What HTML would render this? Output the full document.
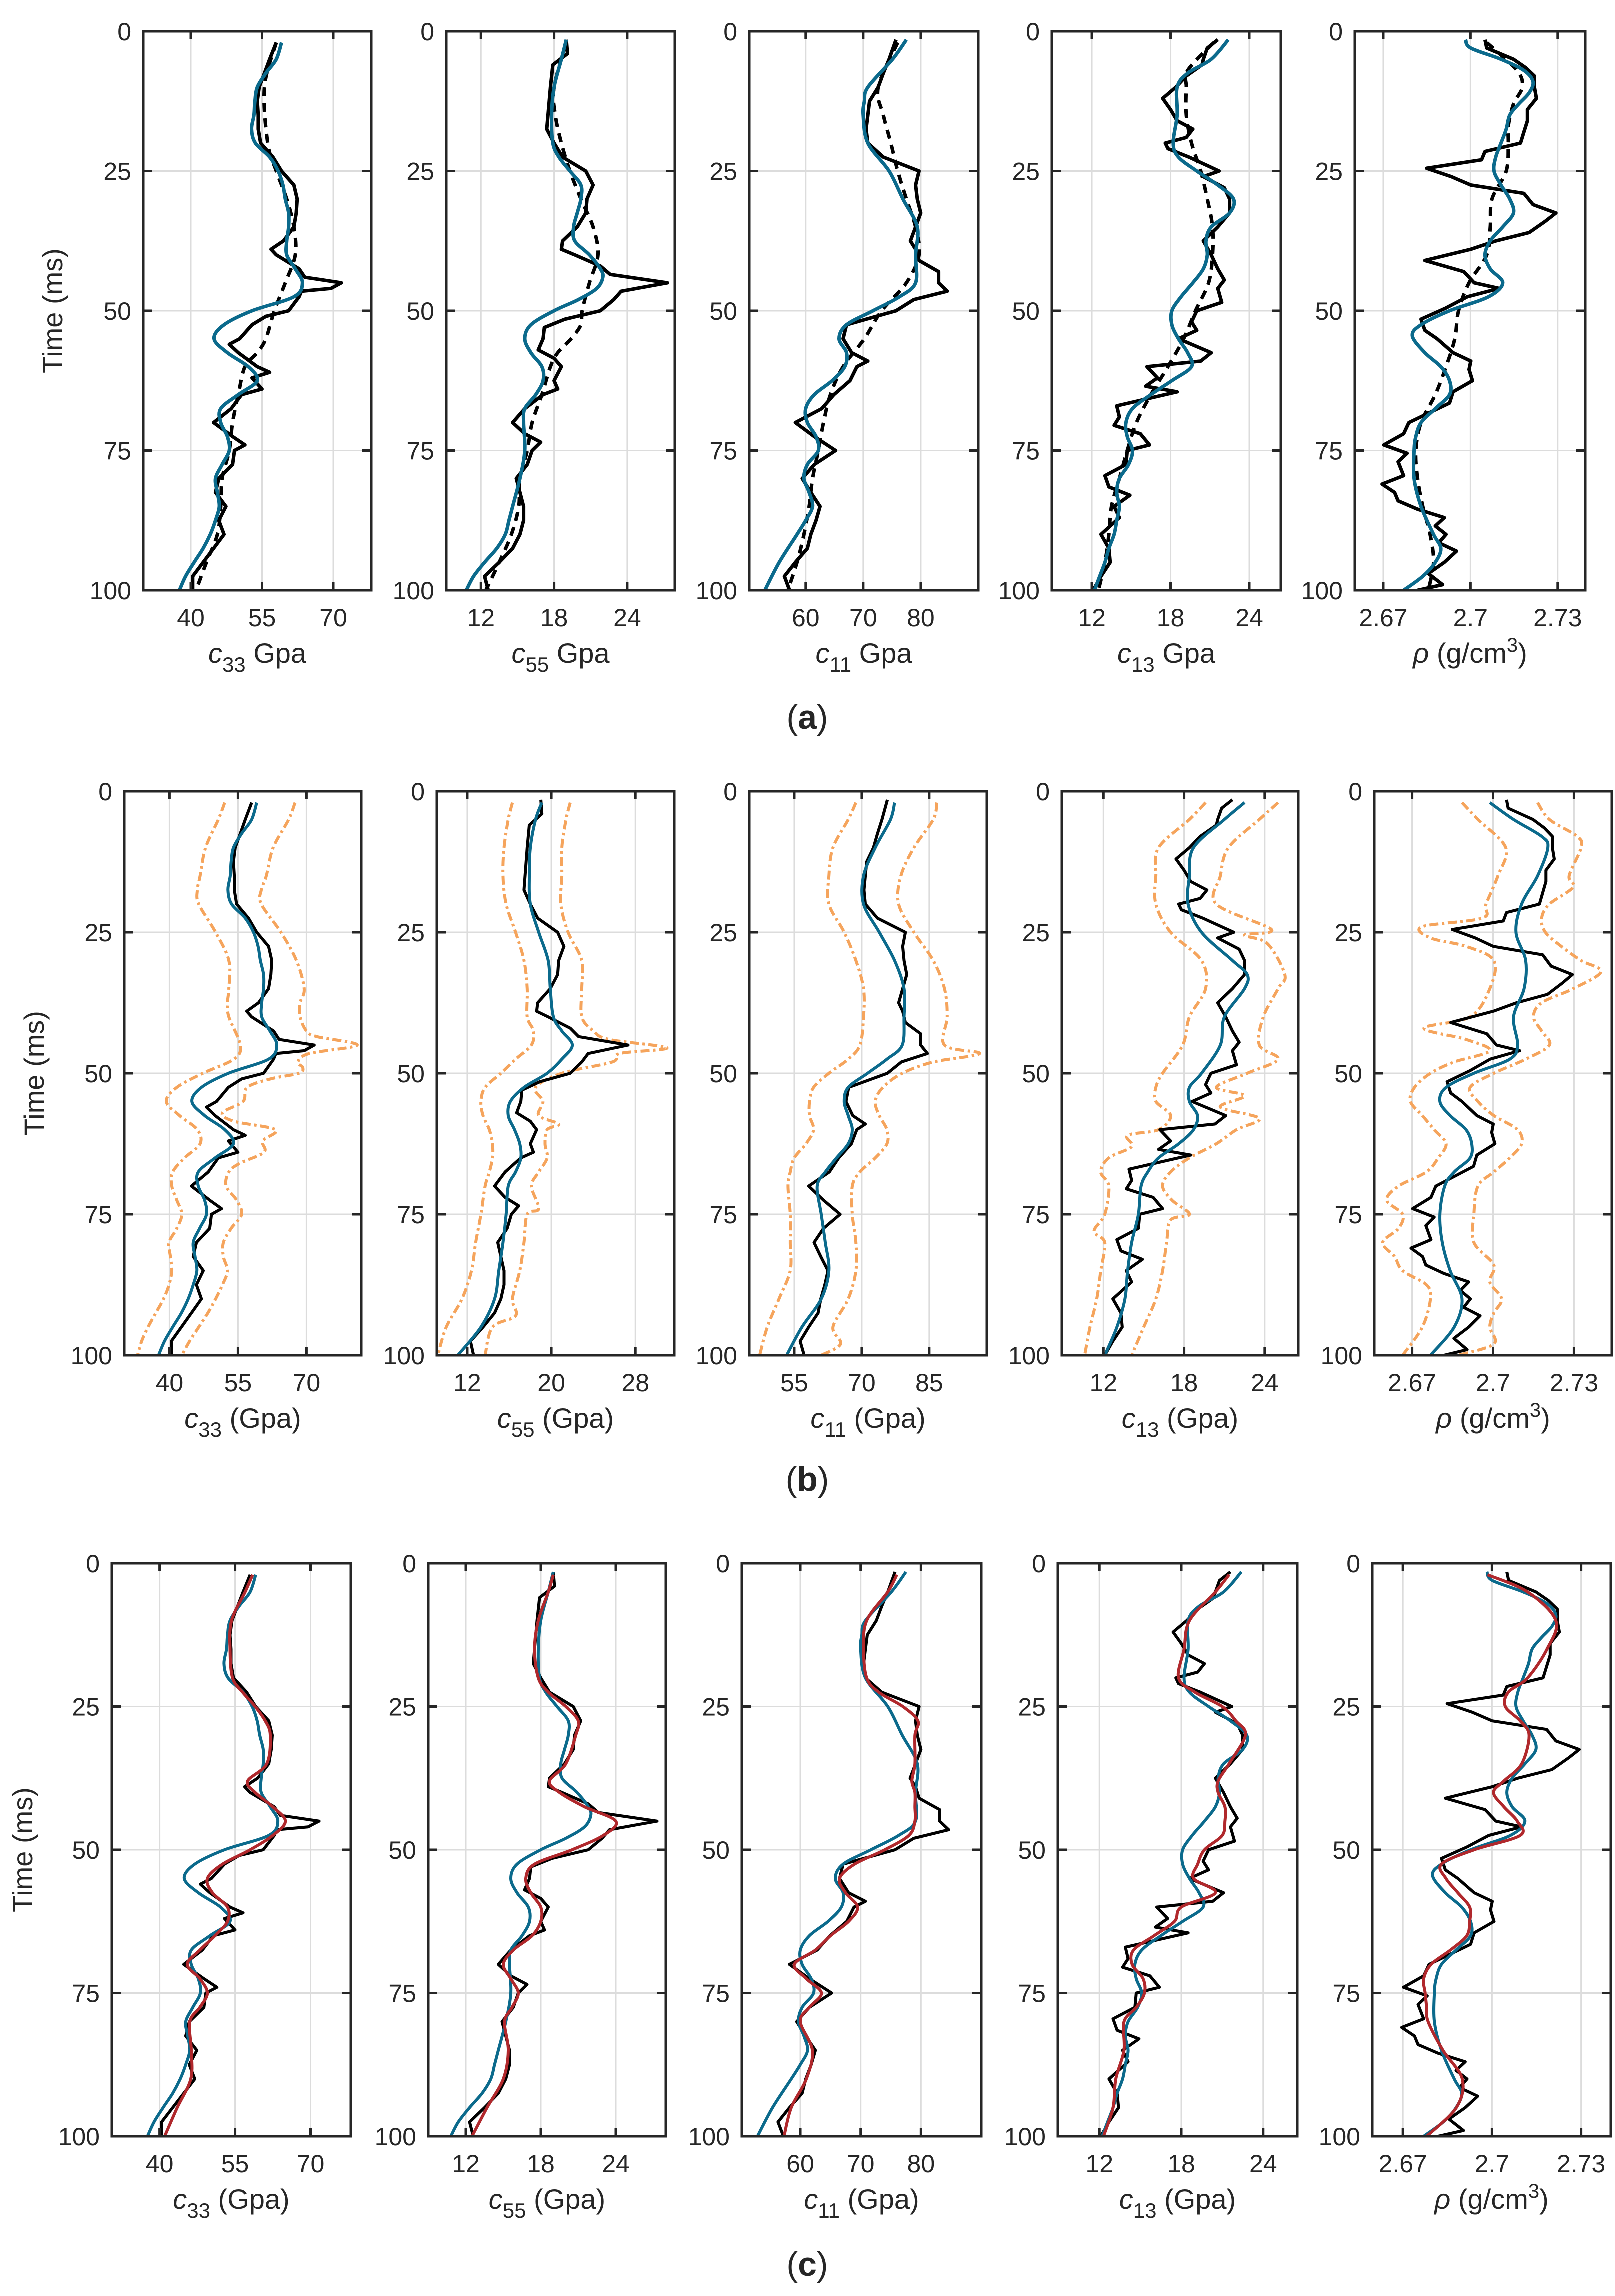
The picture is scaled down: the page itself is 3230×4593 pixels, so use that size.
<!DOCTYPE html>
<html><head><meta charset="utf-8">
<style>
html,body{margin:0;padding:0;background:#fff;}
svg{display:block;}
text{font-family:"Liberation Sans",Arial,sans-serif;fill:#262626;}
</style></head>
<body>
<svg id="fig" width="3230" height="4593" viewBox="0 0 3230 4593" xmlns="http://www.w3.org/2000/svg"></svg>
<script>
// ---------- DATA (time ms, value) ----------
const c33True=[[2,58],[5,56.6],[7.5,55.5],[10,54.4],[12.5,54],[15,54.2],[17.5,54.2],[20,54.7],[22.5,57.3],[25,59.1],[27.5,61.7],[30,62.4],[32.5,62.2],[35,61.7],[37.5,59.5],[39,56.9],[40,58],[42.5,62.8],[44,64],[45,71.7],[46,69.5],[46.5,63.3],[47.5,62.8],[50,60.6],[51,55.8],[52.5,52.9],[55,50.3],[56,48.1],[57.5,50],[60,54],[61,56.6],[62,52.9],[64,55],[65,50.7],[67.5,48.5],[70,44.8],[72.5,48.8],[74,51.4],[75,49.2],[77.5,48.8],[80,45.9],[82.5,45.2],[85,47.4],[87.5,45.9],[90,47],[92.5,44.8],[95,42.6],[97.5,40.4],[100,40.4]];
const c33Blue=[[2,59.1],[5,58],[7.5,55.8],[10,54],[12.5,53.5],[15,53.3],[17.5,52.8],[20,53.6],[22.5,56.6],[25,58.4],[27.5,59.4],[30,59.9],[32.5,60.6],[35,60.6],[37.5,60.2],[40,60.2],[42.5,62],[45,63.5],[47.5,61.7],[50,52.9],[52.5,47],[55,44.9],[57.5,47.7],[60,52.1],[62.5,54],[65,50],[67.5,46.3],[70,46.3],[72.5,47.7],[75,48.1],[77.5,46.6],[80,45.2],[82.5,45.6],[85,46],[87.5,45.2],[90,44.1],[92.5,42.6],[95,40.7],[97.5,38.9],[100,37.6]];
const c33Init=[[2,58],[10,55.5],[20,56.2],[25,58],[30,60.2],[35,61.7],[40,62],[45,59.9],[50,57.6],[55,55.8],[57.5,54],[60,51.4],[65,50],[70,48.8],[75,48.1],[80,46.6],[85,46.3],[90,45.6],[95,43.3],[100,41.1]];
const c55True=[[1.5,19],[4,19.1],[6,17.9],[10,17.7],[15,17.5],[17.5,17.4],[20,18],[22.5,18.7],[25,20.6],[27.5,21.2],[30,20.7],[32.5,20.6],[35,19.9],[37.5,18.7],[39,18.6],[40,19.7],[42,21.8],[43.5,22.6],[45,27.3],[46.5,23.5],[48,22.9],[50,21.8],[51.5,18.9],[53,17.2],[55,17.1],[57,16.7],[58.5,18],[60,18.6],[62.5,18],[64,18.3],[65,17.1],[67.5,15.6],[70,14.6],[72,15.6],[73.5,16.9],[75,16.2],[77.5,15.8],[80,14.9],[82.5,15.2],[85,15.5],[87.5,15.5],[90,15.2],[92.5,14.6],[95,13.5],[97.5,12.3],[100,12.6]];
const c55Blue=[[1.5,19],[5,18.6],[10,18],[15,17.8],[20,17.9],[22.5,18.4],[25,19.3],[27.5,20.2],[30,20.2],[32.5,19.9],[35,19.6],[37.5,19.7],[40,20.9],[42.5,21.8],[44,22],[46,21.5],[48,20],[50,18],[52.5,16.1],[55,15.6],[57.5,16.1],[60,17],[62.5,17.1],[65,16.5],[67.5,15.6],[70,15.5],[75,15.6],[80,15.2],[85,14.6],[87.5,14.3],[90,14],[92.5,13.3],[95,12.3],[97.5,11.4],[100,10.8]];
const c55Init=[[2,19],[10,18],[15,18.1],[20,18.6],[25,19.3],[30,20.2],[35,21.2],[40,21.6],[45,20.9],[50,20.3],[52.5,20.2],[55,19.4],[57.5,18.3],[60,17.7],[65,17],[70,16.2],[75,15.8],[80,15.2],[85,15.1],[90,14.5],[95,13.5],[100,12.4]];
const c11True=[[1.5,75.7],[5,74.5],[7.5,73.5],[10,72.6],[12.5,71.1],[15,70.8],[17.5,70.5],[20,70.8],[22.5,73.5],[25,79.7],[27.5,79.1],[30,79.4],[32.5,80],[35,79.1],[37.5,78.2],[39,79.1],[41,79.7],[43,83.1],[45,83.1],[46.5,84.6],[48,78.8],[50,75.7],[52.5,67.1],[55,66.5],[57.5,68],[59,70.8],[60,68.9],[62.5,67.7],[65,64.9],[67.5,62.8],[70,58.2],[72.5,61.5],[75,65.2],[77.5,61.5],[80,59.4],[82.5,60.9],[85,62.5],[87.5,61.8],[90,60.9],[92.5,60.3],[95,58.2],[97.5,56.3],[100,57.2]];
const c11Blue=[[1.5,77.5],[5,75.1],[10,70.8],[12.5,70.2],[15,70],[20,70.8],[25,74.5],[30,76.9],[35,79.4],[40,79.1],[45,79.1],[47.5,76.3],[50,71.7],[52.5,67.1],[55,65.8],[57.5,67.1],[60,66.8],[62.5,64.6],[65,61.5],[67.5,60],[70,60.3],[72.5,61.8],[75,62.2],[77.5,60.3],[80,59.7],[82.5,60.6],[85,61.2],[87.5,60],[90,58.5],[95,55.4],[100,52.9]];
const c11Init=[[2,76],[10,72.6],[15,73.5],[20,74.8],[25,76],[30,77.5],[35,79.1],[40,79.7],[45,77.5],[50,73.2],[55,70.2],[60,66.5],[65,64.3],[70,63.1],[75,62.2],[80,61.2],[85,60.6],[90,59.7],[95,58.5],[100,56.9]];
const c13True=[[1.5,21.6],[3,20.8],[5,20.5],[6,20.4],[8,19.2],[10,18.4],[12,17.4],[14,18],[16,18.5],[17.5,19.7],[19,19.2],[20,17.6],[21,17.8],[22.5,19.4],[25,21.7],[26,20.5],[28,22.1],[30,22.5],[32.5,22.5],[35,21.6],[37.5,20.5],[40,21.1],[42.5,21.6],[44.5,22.1],[46,21.6],[48.5,21.9],[50,20],[52,19.6],[53.5,20],[55,18.6],[57.5,21.1],[59,20.3],[60,16.2],[62,17],[63.5,16.1],[64.5,18.5],[67,13.9],[69,14.1],[70.5,13.7],[72,15.7],[74,16.4],[75,14.7],[77.5,14.6],[79.5,13],[81.5,13.3],[83,14.9],[85,13.7],[87,14.1],[90,12.7],[92.5,13.3],[95,13.4],[97.5,12.7],[100,12.1]];
const c13Blue=[[1.5,22.4],[5,21.1],[7.5,19.3],[10,18.5],[15,18.5],[20,18.2],[22.5,18.6],[25,20],[27.5,21.6],[30,22.8],[32.5,22.5],[35,21.1],[37.5,20.7],[40,20.8],[42.5,20.5],[45,19.7],[47.5,18.8],[50,18.1],[52.5,18.1],[55,18.6],[57.5,19.3],[60,19.6],[62.5,18.1],[65,16.5],[67.5,15.1],[70,14.6],[72.5,14.7],[75,15.1],[77.5,14.8],[80,14.1],[82.5,13.9],[85,14.1],[87.5,13.9],[90,13.7],[92.5,13.3],[95,13],[97.5,12.6],[100,12.2]];
const c13Init=[[2,21.3],[7,19.3],[10,19.2],[15,19.2],[20,19.6],[25,20.3],[30,20.8],[35,21.2],[40,21.2],[45,20.9],[50,19.9],[55,19],[60,17.8],[65,16.5],[70,15.4],[75,14.7],[80,14.1],[85,13.5],[90,13.3],[95,13],[100,12.5]];
const rhoTrue=[[1.5,2.705],[3,2.7056],[5,2.7148],[6.5,2.719],[8,2.722],[10,2.722],[12,2.7227],[14,2.7196],[16,2.7196],[18,2.7184],[20,2.7172],[21.5,2.705],[23,2.7038],[24.5,2.6849],[26,2.6934],[27.5,2.7001],[29,2.7184],[31,2.7215],[32.5,2.7294],[34,2.7257],[36,2.7202],[37.5,2.7087],[39,2.7001],[41,2.6843],[43,2.6977],[45,2.7013],[46,2.7099],[47.5,2.6989],[49.5,2.6916],[51.5,2.683],[53.5,2.6843],[55,2.6885],[57.5,2.694],[59,2.7001],[60.5,2.6995],[62.5,2.7007],[64.5,2.694],[66.5,2.6928],[70,2.6788],[72,2.677],[74,2.6702],[75.5,2.6782],[77,2.6751],[79.5,2.677],[81,2.6696],[82.5,2.6739],[84,2.6751],[85.5,2.6818],[87,2.691],[88.5,2.6879],[90,2.6916],[91.5,2.6891],[93,2.6952],[95,2.691],[97,2.6855],[99,2.6904],[100,2.6818]];
const rhoBlue=[[1.5,2.6983],[3,2.7001],[5,2.7105],[7,2.7184],[9,2.7215],[11,2.7202],[13,2.7166],[15,2.7135],[17.5,2.7123],[20,2.7105],[22.5,2.7087],[25,2.7081],[27.5,2.7105],[30,2.7135],[32.5,2.7148],[35,2.7111],[37.5,2.7068],[40,2.705],[42.5,2.7068],[45,2.7111],[47.5,2.7062],[50,2.6928],[52.5,2.683],[54.5,2.68],[57.5,2.6843],[60,2.6898],[62.5,2.6928],[65,2.6928],[67.5,2.6879],[70,2.683],[72.5,2.6812],[75,2.6806],[80,2.6806],[85,2.683],[90,2.6873],[92.5,2.6898],[95,2.6879],[97.5,2.6836],[100,2.677]];
const rhoInit=[[2,2.7056],[7,2.716],[10,2.7178],[13,2.7148],[17,2.713],[20,2.713],[25,2.7123],[30,2.7074],[35,2.7068],[40,2.7056],[45,2.6995],[50,2.6959],[55,2.6946],[60,2.6916],[65,2.6879],[70,2.683],[75,2.6812],[80,2.6818],[85,2.6836],[90,2.6861],[95,2.6873],[100,2.6855]];

// Row (b): posterior mean and bounds
const c33Lo=[[2,52.1],[5,50.7],[10,47.9],[15,46.7],[17.5,46.1],[20,46.4],[25,50.1],[30,53],[35,53],[37.5,52.7],[40,53],[45,55.5],[47.5,54.1],[50,47.3],[52.5,41.6],[55,39.3],[57.5,42.2],[60,46.1],[62.5,46.7],[65,43.3],[67.5,40.7],[70,40.5],[72.5,41.6],[75,42.7],[77.5,41.6],[80,39.9],[82.5,40.2],[85,40.5],[87.5,39.9],[90,38.7],[92.5,37],[95,35.3],[97.5,33.9],[100,33]];
const c33Hi=[[2,67.5],[5,66.1],[10,62.7],[15,61.2],[17.5,60.1],[20,60.1],[25,64.4],[30,67.8],[35,69.5],[37.5,68.6],[40,68.6],[42.5,70],[43.5,72.3],[45,81.1],[46.5,70.6],[48,68.1],[49,69.2],[50,68.3],[51,62.1],[52.5,57],[55,56.1],[57,51.6],[58.5,54.1],[60,63.2],[62,60.4],[64,60.7],[66,55.3],[67.5,53],[70,52.4],[72.5,54.7],[75,55.8],[77.5,53.5],[80,51.8],[82.5,51.8],[85,52.7],[87.5,51.6],[90,50.1],[92.5,48.4],[95,46.4],[97.5,44.4],[100,42.7]];
const c55Mean=[[2,19.1],[5,18.5],[10,18],[15,17.9],[20,18],[25,18.8],[30,19.7],[35,19.9],[40,20.2],[42.5,21],[45,22],[47.5,21],[50,19.6],[52.5,17.4],[55,16.1],[57.5,15.9],[60,16.5],[62.5,17],[65,17.1],[67.5,16.6],[70,15.9],[75,15.7],[80,15.4],[85,15],[90,14.6],[95,13.3],[100,11.1]];
const c55Lo=[[2,16.3],[5,15.9],[10,15.5],[15,15.4],[20,15.7],[25,16.6],[30,17.4],[35,17.7],[40,17.7],[42.5,18.3],[45,18.1],[47.5,16.6],[50,15.2],[52.5,13.7],[55,13.3],[57.5,13.5],[60,14.1],[62.5,14.4],[65,14.4],[67.5,14.1],[70,13.7],[75,13.3],[80,12.8],[85,12.4],[90,11.5],[95,10],[100,9.2]];
const c55Hi=[[2,21.8],[5,21.4],[10,21],[15,21],[20,20.9],[25,21.6],[30,22.9],[35,22.9],[40,22.9],[42.5,24],[44,25.5],[45.5,31],[46.5,26.5],[48,25.8],[50,21],[52.5,18.5],[55,19.2],[57.5,18.8],[59,20.7],[60,19.6],[62.5,19.4],[65,19.6],[67.5,18.8],[70,18.1],[74,18.8],[75,17.7],[80,17.4],[85,17],[90,16.3],[93,16.6],[95,14.4],[100,13.7]];
const c11Mean=[[2,77.3],[5,76.4],[10,73],[15,70.4],[20,70.4],[25,73.9],[30,77.3],[35,79.4],[40,79.4],[45,79],[47.5,75.6],[50,71.3],[52.5,67],[55,66.1],[57.5,67],[60,67.9],[62.5,67],[65,64.4],[67.5,61.9],[70,60.1],[75,61],[80,61.9],[85,62.7],[90,61],[95,56.7],[100,53.3]];
const c11Lo=[[2,68.7],[5,67],[10,63.6],[15,62.7],[20,62.7],[25,66.1],[30,68.7],[35,70.4],[40,70.4],[45,69.6],[47.5,67],[50,62.7],[52.5,59.3],[55,58.4],[57.5,58.4],[60,59.3],[62.5,57.6],[65,55],[67.5,54.1],[70,53.6],[75,54.1],[80,54.1],[85,54.1],[90,51.6],[95,49],[100,47.3]];
const c11Hi=[[2,86.7],[5,85.9],[10,81.6],[15,78.7],[20,78.2],[25,81.6],[30,85.9],[35,88.4],[40,89],[45,88.4],[46.5,96.2],[48,85.9],[50,79],[52.5,74.7],[55,73],[57.5,73.9],[60,75.6],[62.5,75.6],[65,73],[67.5,69.6],[70,67.9],[75,67.9],[80,68.7],[85,68.7],[90,67],[95,63.6],[98,65.3],[100,61]];
const c13Mean=[[2,22.5],[5,21],[10,18.7],[15,18.4],[20,18.3],[25,19.3],[30,21.6],[32.5,22.7],[35,22.5],[40,21],[45,20.7],[50,19.3],[52.5,18.4],[55,18.4],[57.5,19],[60,18.7],[62.5,17.6],[65,16.1],[67.5,15.3],[70,14.8],[75,14.6],[80,14.1],[85,13.8],[90,13.6],[95,13],[100,12.1]];
const c13Lo=[[2,19.6],[5,18.4],[10,16.1],[15,15.9],[20,15.9],[25,17],[30,19.3],[35,19.6],[40,18.4],[45,17.9],[50,16.4],[52.5,15.9],[55,15.9],[57.5,17],[60,16.1],[61,13.8],[63,14.1],[65,12.4],[67.5,11.8],[70,12.4],[75,12.1],[78,11.3],[80,12.1],[85,11.8],[90,11.5],[95,11],[100,10.6]];
const c13Hi=[[2,25],[5,23.6],[10,21.3],[15,20.7],[20,20.4],[24.5,24.5],[25.5,22.5],[27,24.2],[32.5,25.5],[35,25],[40,23.9],[45,23.6],[47.5,25],[50,22.7],[52.5,20.4],[54,22.5],[56,20.7],[58,23.6],[60,21.9],[62.5,20.4],[65,18.4],[67.5,17],[70,16.4],[72.5,17.1],[75,18.4],[76,17],[80,16.7],[85,16.4],[90,15.9],[95,15],[100,14.1]];
const rhoMean=[[2,2.6988],[5,2.7076],[8,2.718],[10,2.7203],[15,2.7165],[20,2.7106],[25,2.7085],[30,2.7121],[35,2.7115],[40,2.7076],[45,2.7091],[47.5,2.7062],[50,2.6929],[52.5,2.6826],[55,2.6803],[57.5,2.6841],[60,2.69],[62.5,2.6921],[65,2.6915],[67.5,2.6856],[70,2.6821],[75,2.6803],[80,2.6812],[85,2.6841],[90,2.6885],[95,2.6856],[100,2.6768]];
const rhoLo=[[2,2.6885],[5,2.6944],[10,2.7047],[15,2.7018],[20,2.6974],[22.5,2.6959],[24,2.6738],[26,2.6768],[27.5,2.69],[30,2.7003],[35,2.6988],[40,2.6915],[42,2.6744],[44,2.69],[46,2.6988],[48,2.6856],[50,2.6768],[52.5,2.6709],[55,2.6694],[57.5,2.6738],[60,2.6782],[62.5,2.6826],[65,2.6797],[67.5,2.6753],[70,2.665],[72.5,2.6606],[75,2.6665],[77.5,2.665],[80,2.6591],[82.5,2.6635],[85,2.6665],[87.5,2.6753],[90,2.6768],[95,2.6738],[100,2.6665]];
const rhoHi=[[2,2.7165],[5,2.7209],[8,2.7312],[10,2.7326],[15,2.7282],[17,2.7297],[20,2.7209],[22.5,2.718],[25,2.7194],[27.5,2.7253],[30,2.7326],[32,2.74],[35,2.7297],[37.5,2.718],[40,2.715],[42.5,2.718],[45,2.7209],[47.5,2.7121],[50,2.7003],[52.5,2.6915],[55,2.6944],[57.5,2.7003],[60,2.7091],[62.5,2.7106],[65,2.7062],[67.5,2.7003],[70,2.6944],[75,2.6929],[80,2.6929],[84,2.7003],[87,2.6988],[90,2.7032],[92.5,2.7003],[95,2.6988],[98,2.7003],[100,2.6871]];

// Row (c): second inversion (red)
const tRed=[2,5,10,15,20,22.5,25,27.5,30,35,38,40,42.5,45,47.5,50,52.5,55,57.5,60,62.5,65,67.5,70,72.5,75,77.5,80,85,90,95,100];
const c33Red=[58.5,57,54.3,54,54.5,56.5,59,61,62,61.3,57.5,59,62.5,65,62.5,58,52.5,49.5,50.5,53.5,53.5,51,48,45.5,48,49.5,48,46,46.3,46.2,43.5,41];
const c55Red=[19,18.6,17.8,17.5,17.8,18.6,20,21,20.8,20,18.7,19.5,21.5,24,23,20.5,17.5,16.8,17.2,18,18,17.3,15.8,15,15.6,16.2,15.7,15.1,15.4,15,13.7,12.5];
const c11Red=[76,74.5,71,70.5,71,73,77,79.5,79,79,78.5,79,79,79,78,74,69,66.5,67.5,69.5,68,65,62.5,59,61,63.5,61.5,60,62,61,58.5,57.3];
const c13Red=[21.5,20.5,18.6,18.2,17.8,19,21,22,22.7,21.5,20.7,20.7,21.2,21.2,21,19.7,19.2,18.9,20.5,18,17.5,16,14.5,14.4,15.2,15.3,14.7,13.8,13.8,13.2,13,12.3];
const rhoRed=[2.6985,2.712,2.7215,2.7185,2.712,2.7055,2.7045,2.7095,2.7125,2.71,2.704,2.7005,2.704,2.7085,2.7095,2.694,2.683,2.6845,2.6885,2.6925,2.6925,2.6915,2.686,2.6795,2.677,2.6775,2.678,2.6785,2.6835,2.69,2.688,2.678];

const yTicks=[0,25,50,75,100];
const ticksA=[[40,55,70],[12,18,24],[60,70,80],[12,18,24],[2.67,2.7,2.73]];
const ticksB=[[40,55,70],[12,20,28],[55,70,85],[12,18,24],[2.67,2.7,2.73]];
const ticksC=ticksA;
const tickLabelsA=[["40","55","70"],["12","18","24"],["60","70","80"],["12","18","24"],["2.67","2.7","2.73"]];
const tickLabelsB=[["40","55","70"],["12","20","28"],["55","70","85"],["12","18","24"],["2.67","2.7","2.73"]];
const rangesA=[[30,78],[9.16,27.9],[50.2,90],[8.95,26.4],[2.6602,2.7395]];
const rangesB=[[30.1,82],[9.1,31.7],[45,97.8],[8.9,26.5],[2.656,2.744]];
const rangesC=[[30.5,78],[9,28],[50.3,90],[8.95,26.5],[2.6597,2.74]];

// ---------- LAYOUT ----------
const NS="http://www.w3.org/2000/svg";
const svg=document.getElementById('fig');
function el(tag,attrs,parent){const e=document.createElementNS(NS,tag);for(const k in attrs)e.setAttribute(k,attrs[k]);(parent||svg).appendChild(e);return e;}
const names=['c33','c55','c11','c13','rho'];
const subs=['33','55','11','13'];
let clipId=0;

function pathD(P,smooth){
  if(!smooth) return P.map((p,k)=>(k?'L':'M')+p[0].toFixed(1)+','+p[1].toFixed(1)).join('');
  let d='M'+P[0][0].toFixed(1)+','+P[0][1].toFixed(1);
  for(let k=0;k<P.length-1;k++){
    const p0=P[Math.max(k-1,0)],p1=P[k],p2=P[k+1],p3=P[Math.min(k+2,P.length-1)];
    const c1=[p1[0]+(p2[0]-p0[0])/6,p1[1]+(p2[1]-p0[1])/6];
    const c2=[p2[0]-(p3[0]-p1[0])/6,p2[1]-(p3[1]-p1[1])/6];
    d+='C'+c1[0].toFixed(1)+','+c1[1].toFixed(1)+' '+c2[0].toFixed(1)+','+c2[1].toFixed(1)+' '+p2[0].toFixed(1)+','+p2[1].toFixed(1);
  }
  return d;
}

function drawPanel(row,i,box,top,bot,range,ticks,tlabels,series,unitParen){
  const g=el('g',{});
  
  
  const x=v=>box[0]+(v-range[0])/(range[1]-range[0])*(box[1]-box[0]);
  const y=t=>top+t/100*(bot-top);
  ticks.forEach(v=>{const l=el('line',{x1:x(v),x2:x(v),y1:top,y2:bot,stroke:'#dcdcdc','stroke-width':3},g);
    });
  yTicks.slice(1,4).forEach(t=>{const l=el('line',{x1:box[0],x2:box[1],y1:y(t),y2:y(t),stroke:'#dcdcdc','stroke-width':3},g);
    });
  const cid='clip'+(clipId++);
  const cp=el('clipPath',{id:cid},g);el('rect',{x:box[0],y:top,width:box[1]-box[0],height:bot-top},cp);
  const sg=el('g',{'clip-path':'url(#'+cid+')'},g);
  series.forEach(s=>{
    const P=s.pts.map(p=>[x(p[1]),y(p[0])]);
    const a={d:pathD(P,s.smooth),fill:'none',stroke:s.color,'stroke-width':s.w,'stroke-linejoin':'round','stroke-linecap':'butt'};
    if(s.dash)a['stroke-dasharray']=s.dash;
    const p=el('path',a,sg);
    
    
  });
  const fr=el('rect',{x:box[0],y:top,width:box[1]-box[0],height:bot-top,fill:'none',stroke:'#262626','stroke-width':5},g);
  
  ticks.forEach(v=>{el('line',{x1:x(v),x2:x(v),y1:bot,y2:bot-16,stroke:'#262626','stroke-width':5},g);
    el('line',{x1:x(v),x2:x(v),y1:top,y2:top+16,stroke:'#262626','stroke-width':5},g);});
  yTicks.forEach(t=>{el('line',{x1:box[0],x2:box[0]+18,y1:y(t),y2:y(t),stroke:'#262626','stroke-width':5},g);
    el('line',{x1:box[1],x2:box[1]-18,y1:y(t),y2:y(t),stroke:'#262626','stroke-width':5},g);});
  ticks.forEach((v,k)=>{const t=el('text',{x:x(v),y:bot+72,'font-size':50,'text-anchor':'middle'},g);t.textContent=tlabels[k];
    });
  yTicks.forEach(tv=>{const t=el('text',{x:box[0]-24,y:y(tv)+18,'font-size':50,'text-anchor':'end'},g);t.textContent=String(tv);
    });
  const cx=(box[0]+box[1])/2;
  const tt=el('text',{x:cx,y:bot+145,'font-size':56,'text-anchor':'middle'},g);
  
  if(i<4){
    tt.innerHTML='<tspan font-style="italic">c</tspan><tspan dy="18" font-size="42">'+subs[i]+'</tspan><tspan dy="-18">'+(unitParen?' (Gpa)':' Gpa')+'</tspan>';
  }else{
    tt.innerHTML='<tspan font-style="italic">ρ</tspan><tspan> (g/cm</tspan><tspan dy="-22" font-size="40">3</tspan><tspan dy="22">)</tspan>';
  }
}

function drawRow(row,top,bot,boxes,ranges,ticks,tl,seriesFn,unitParen,yTitleX,label,labelY){
  boxes.forEach((b,i)=>drawPanel(row,i,b,top,bot,ranges[i],ticks[i],tl[i],seriesFn(i),unitParen));
  const cy=(top+bot)/2;
  const yt=el('text',{x:yTitleX,y:cy,'font-size':56,'text-anchor':'middle',transform:'rotate(-90 '+yTitleX+' '+cy+')'});
  yt.textContent='Time (ms)';
  
  const lb=el('text',{x:1615,y:labelY,'font-size':68,'text-anchor':'middle','font-family':'Liberation Serif, serif'});
  lb.innerHTML='(<tspan font-weight="bold">'+label+'</tspan>)';
  
}

const trueS=[c33True,c55True,c11True,c13True,rhoTrue];
const blueS=[c33Blue,c55Blue,c11Blue,c13Blue,rhoBlue];
const initS=[c33Init,c55Init,c11Init,c13Init,rhoInit];
const meanS=[c33Blue,c55Mean,c11Mean,c13Mean,rhoMean];
const loS=[c33Lo,c55Lo,c11Lo,c13Lo,rhoLo];
const hiS=[c33Hi,c55Hi,c11Hi,c13Hi,rhoHi];
const redS=[c33Red,c55Red,c11Red,c13Red,rhoRed];
const BLUE='#0b6a8c',ORANGE='#f5a45c',RED='#b0282c';

drawRow('a',63,1181,[[287,743],[893,1350],[1499,1957],[2104,2562],[2710,3171]],rangesA,ticksA,tickLabelsA,
  i=>[{name:'initial-model',pts:initS[i],color:'#000',w:7,dash:'18 13',smooth:true},
      {name:'true-model',pts:trueS[i],color:'#000',w:7},
      {name:'inverted-model',pts:blueS[i],color:BLUE,w:7,smooth:true}],false,125,'a',1458);
drawRow('b',1583,2711,[[249,723],[874,1349],[1499,1974],[2124,2597],[2749,3224]],rangesB,ticksB,tickLabelsB,
  i=>[{name:'lower-bound',pts:loS[i],color:ORANGE,w:6,dash:'18 7 5 7',smooth:true},
      {name:'upper-bound',pts:hiS[i],color:ORANGE,w:6,dash:'18 7 5 7',smooth:true},
      {name:'true-model',pts:trueS[i],color:'#000',w:6},
      {name:'posterior-mean',pts:meanS[i],color:BLUE,w:6,smooth:true}],true,88,'b',2982);
drawRow('c',3127,4273,[[224,702],[857,1332],[1484,1963],[2116,2595],[2745,3222]],rangesC,ticksC,tickLabelsA,
  i=>[{name:'true-model',pts:trueS[i],color:'#000',w:6},
      {name:'inverted-model',pts:blueS[i],color:BLUE,w:6,smooth:true},
      {name:'improved-inversion',pts:tRed.map((t,k)=>[t,redS[i][k]]),color:RED,w:6,smooth:true}],true,65,'c',4552);
</script>
</body></html>
